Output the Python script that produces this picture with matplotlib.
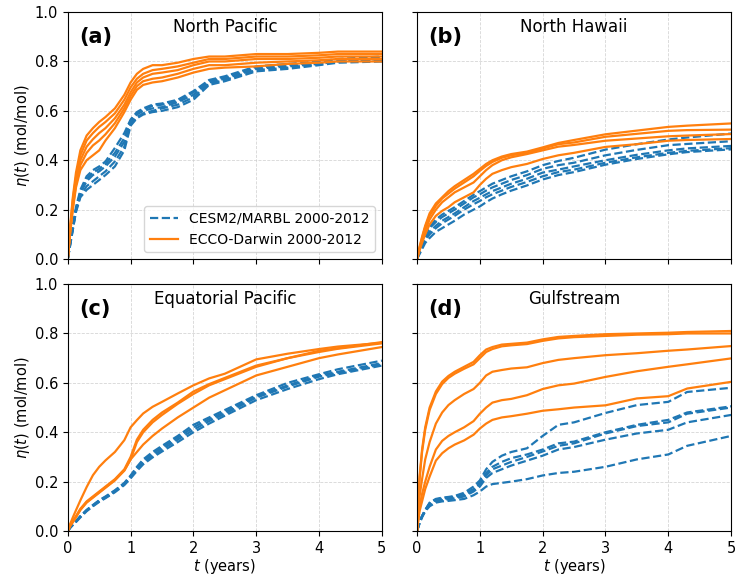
import matplotlib
matplotlib.use("Agg")
from matplotlib import pyplot as plt

t = [0, 0.04, 0.08, 0.13, 0.2, 0.3, 0.4, 0.5, 0.6, 0.75, 0.9, 1.0, 1.1, 1.2, 1.35,
     1.5, 1.75, 2.0, 2.25, 2.5, 3.0, 3.5, 4.0, 4.3, 5.0]

titles = ["North Pacific", "North Hawaii", "Equatorial Pacific", "Gulfstream"]
letters = ["(a)", "(b)", "(c)", "(d)"]

# ECCO-Darwin (solid orange)
np_ecco = [
    [0, .14, .25, .35, .44, .50, .53, .555, .575, .61, .665, .715, .75, .77, .785, .785, .795, .81, .82, .82, .83, .83, .835, .84, .84],
    [0, .13, .24, .33, .42, .48, .51, .535, .555, .59, .645, .695, .73, .75, .765, .77, .78, .795, .81, .81, .82, .82, .825, .83, .83],
    [0, .12, .22, .32, .40, .455, .485, .51, .53, .57, .625, .675, .715, .735, .75, .755, .765, .785, .80, .80, .81, .81, .815, .82, .82],
    [0, .12, .21, .30, .38, .43, .46, .48, .505, .55, .61, .66, .70, .72, .73, .735, .75, .77, .785, .785, .795, .80, .805, .81, .81],
    [0, .11, .20, .29, .36, .40, .42, .44, .48, .53, .595, .645, .685, .705, .715, .72, .735, .755, .77, .775, .78, .79, .795, .80, .80],
]
nh_ecco = [
    [0, .05, .09, .135, .185, .225, .25, .275, .295, .32, .345, .365, .385, .40, .415, .425, .435, .452, .47, .482, .505, .52, .535, .54, .549],
    [0, .045, .085, .13, .175, .215, .245, .265, .285, .31, .335, .357, .377, .393, .41, .42, .43, .447, .465, .472, .495, .507, .519, .522, .524],
    [0, .04, .075, .115, .16, .20, .23, .25, .27, .29, .31, .335, .36, .38, .40, .412, .425, .44, .455, .462, .479, .488, .497, .50, .506],
    [0, .035, .065, .10, .14, .175, .195, .21, .23, .25, .27, .30, .325, .345, .36, .372, .385, .405, .42, .43, .454, .465, .479, .482, .486],
]
eq_ecco = [
    [0, .03, .055, .084, .124, .178, .226, .26, .286, .32, .368, .42, .449, .476, .503, .523, .557, .59, .618, .637, .695, .718, .737, .747, .762],
    [0, .025, .04, .06, .09, .12, .14, .16, .18, .21, .25, .30, .37, .41, .45, .48, .52, .565, .595, .62, .67, .70, .73, .74, .765],
    [0, .025, .04, .058, .087, .117, .137, .157, .177, .207, .245, .29, .36, .40, .44, .47, .515, .555, .59, .615, .665, .70, .725, .738, .76],
    [0, .02, .035, .055, .085, .115, .135, .155, .175, .205, .245, .29, .32, .35, .385, .415, .46, .50, .54, .57, .63, .665, .70, .715, .745],
]
gs_ecco = [
    [0, .22, .33, .42, .50, .565, .605, .628, .645, .665, .685, .712, .735, .745, .755, .758, .763, .776, .786, .79, .797, .80, .803, .806, .81],
    [0, .21, .32, .41, .49, .555, .595, .62, .637, .657, .675, .70, .725, .737, .748, .752, .757, .77, .78, .785, .79, .795, .797, .80, .80],
    [0, .14, .21, .29, .36, .435, .48, .51, .53, .555, .575, .60, .63, .645, .652, .658, .663, .68, .693, .70, .712, .72, .73, .735, .749],
    [0, .10, .15, .20, .26, .33, .365, .385, .40, .42, .445, .475, .50, .52, .53, .535, .55, .575, .59, .597, .624, .647, .665, .675, .699],
    [0, .08, .12, .17, .22, .285, .315, .335, .35, .367, .39, .415, .435, .45, .46, .465, .475, .487, .493, .50, .509, .537, .546, .577, .604],
]

# CESM2/MARBL (dashed blue)
np_cesm = [
    [0, .07, .13, .21, .28, .335, .36, .375, .395, .45, .51, .565, .595, .61, .625, .63, .645, .68, .725, .74, .78, .79, .80, .81, .82],
    [0, .07, .13, .20, .27, .325, .35, .365, .385, .43, .49, .56, .59, .605, .62, .625, .64, .675, .72, .735, .775, .785, .795, .805, .815],
    [0, .065, .125, .20, .265, .315, .34, .355, .375, .415, .475, .555, .585, .60, .61, .615, .635, .665, .715, .73, .77, .78, .79, .80, .81],
    [0, .06, .12, .195, .255, .295, .315, .335, .355, .395, .455, .545, .575, .59, .60, .61, .625, .655, .71, .725, .765, .775, .79, .80, .805],
    [0, .06, .12, .19, .25, .28, .30, .32, .34, .375, .44, .54, .57, .585, .595, .60, .615, .645, .705, .72, .76, .77, .785, .795, .80],
]
nh_cesm = [
    [0, .04, .07, .10, .13, .16, .18, .195, .21, .235, .26, .275, .29, .305, .32, .335, .355, .38, .397, .41, .443, .465, .484, .492, .508],
    [0, .035, .065, .095, .125, .15, .17, .185, .20, .225, .25, .262, .277, .29, .305, .32, .34, .365, .38, .39, .42, .442, .461, .466, .477],
    [0, .03, .055, .085, .11, .135, .155, .17, .185, .21, .235, .248, .262, .275, .29, .305, .325, .35, .362, .375, .40, .422, .44, .448, .458],
    [0, .025, .05, .075, .10, .125, .145, .16, .175, .20, .222, .235, .25, .262, .277, .292, .312, .335, .352, .362, .39, .412, .43, .438, .449],
    [0, .02, .04, .065, .085, .11, .125, .14, .155, .18, .20, .213, .23, .245, .262, .277, .298, .322, .34, .352, .382, .405, .424, .433, .444],
]
eq_cesm = [
    [0, .015, .028, .04, .06, .085, .105, .125, .14, .165, .195, .225, .26, .29, .32, .345, .385, .43, .46, .49, .55, .60, .635, .655, .69],
    [0, .015, .027, .04, .06, .085, .105, .123, .138, .163, .192, .222, .255, .283, .313, .338, .378, .42, .453, .482, .545, .59, .63, .645, .68],
    [0, .014, .025, .038, .058, .083, .102, .12, .135, .16, .19, .218, .25, .277, .305, .33, .37, .41, .445, .475, .54, .585, .625, .64, .675],
    [0, .013, .024, .036, .055, .08, .10, .118, .133, .157, .186, .213, .243, .27, .298, .322, .36, .40, .435, .467, .53, .575, .615, .635, .67],
]
gs_cesm = [
    [0, .035, .06, .085, .115, .13, .135, .138, .142, .155, .18, .205, .25, .28, .305, .32, .335, .385, .43, .44, .478, .51, .523, .563, .58],
    [0, .035, .06, .085, .112, .128, .132, .135, .14, .15, .17, .195, .235, .26, .28, .295, .31, .33, .355, .362, .40, .43, .45, .48, .505],
    [0, .035, .06, .085, .11, .125, .13, .132, .136, .145, .165, .19, .225, .25, .265, .28, .30, .322, .345, .355, .395, .425, .44, .475, .50],
    [0, .035, .06, .08, .105, .12, .125, .128, .132, .14, .16, .18, .215, .235, .25, .265, .285, .305, .33, .34, .37, .395, .41, .44, .47],
    [0, .03, .055, .08, .10, .115, .12, .122, .125, .13, .145, .16, .18, .19, .195, .20, .21, .225, .235, .24, .26, .29, .31, .345, .385],
]

ecco = [np_ecco, nh_ecco, eq_ecco, gs_ecco]
cesm = [np_cesm, nh_cesm, eq_cesm, gs_cesm]


def main():
    fig, axes = plt.subplots(2, 2, sharex=True, sharey=True, figsize=(7.37, 5.75), dpi=100)
    fig.subplots_adjust(left=0.092, right=0.992, top=0.979, bottom=0.0765, wspace=0.112, hspace=0.1015)

    for i, ax in enumerate(axes.flat):
        for k, y in enumerate(cesm[i]):
            ax.plot(t, y, color='tab:blue', linestyle='dashed', linewidth=1.6,
                    label='CESM2/MARBL 2000-2012' if k == 0 else None)
        for k, y in enumerate(ecco[i]):
            ax.plot(t, y, color='tab:orange', linewidth=1.6,
                    label='ECCO-Darwin 2000-2012' if k == 0 else None)
        ax.set_xlim(0, 5)
        ax.set_ylim(0, 1)
        ax.grid(True, linestyle='--', color='#cccccc', linewidth=0.6, alpha=0.8)
        ax.text(0.035, 0.9, letters[i], transform=ax.transAxes, fontsize=15,
                fontweight='bold', va='center')
        ax.text(0.5, 0.94, titles[i], transform=ax.transAxes, fontsize=12,
                ha='center', va='center')
        ax.tick_params(labelsize=10.5)

    for ax in axes[:, 0]:
        ax.set_ylabel(r"$\eta(t)$ (mol/mol)", fontsize=10.5, labelpad=2)
    for ax in axes[1, :]:
        ax.set_xlabel(r"$t$ (years)", fontsize=10.5, labelpad=1)

    h, l = axes[0, 0].get_legend_handles_labels()
    axes[0, 0].legend(h, l, loc='lower right', fontsize=10)

    fig.savefig("out.png")


if __name__ == '__main__':
    main()
